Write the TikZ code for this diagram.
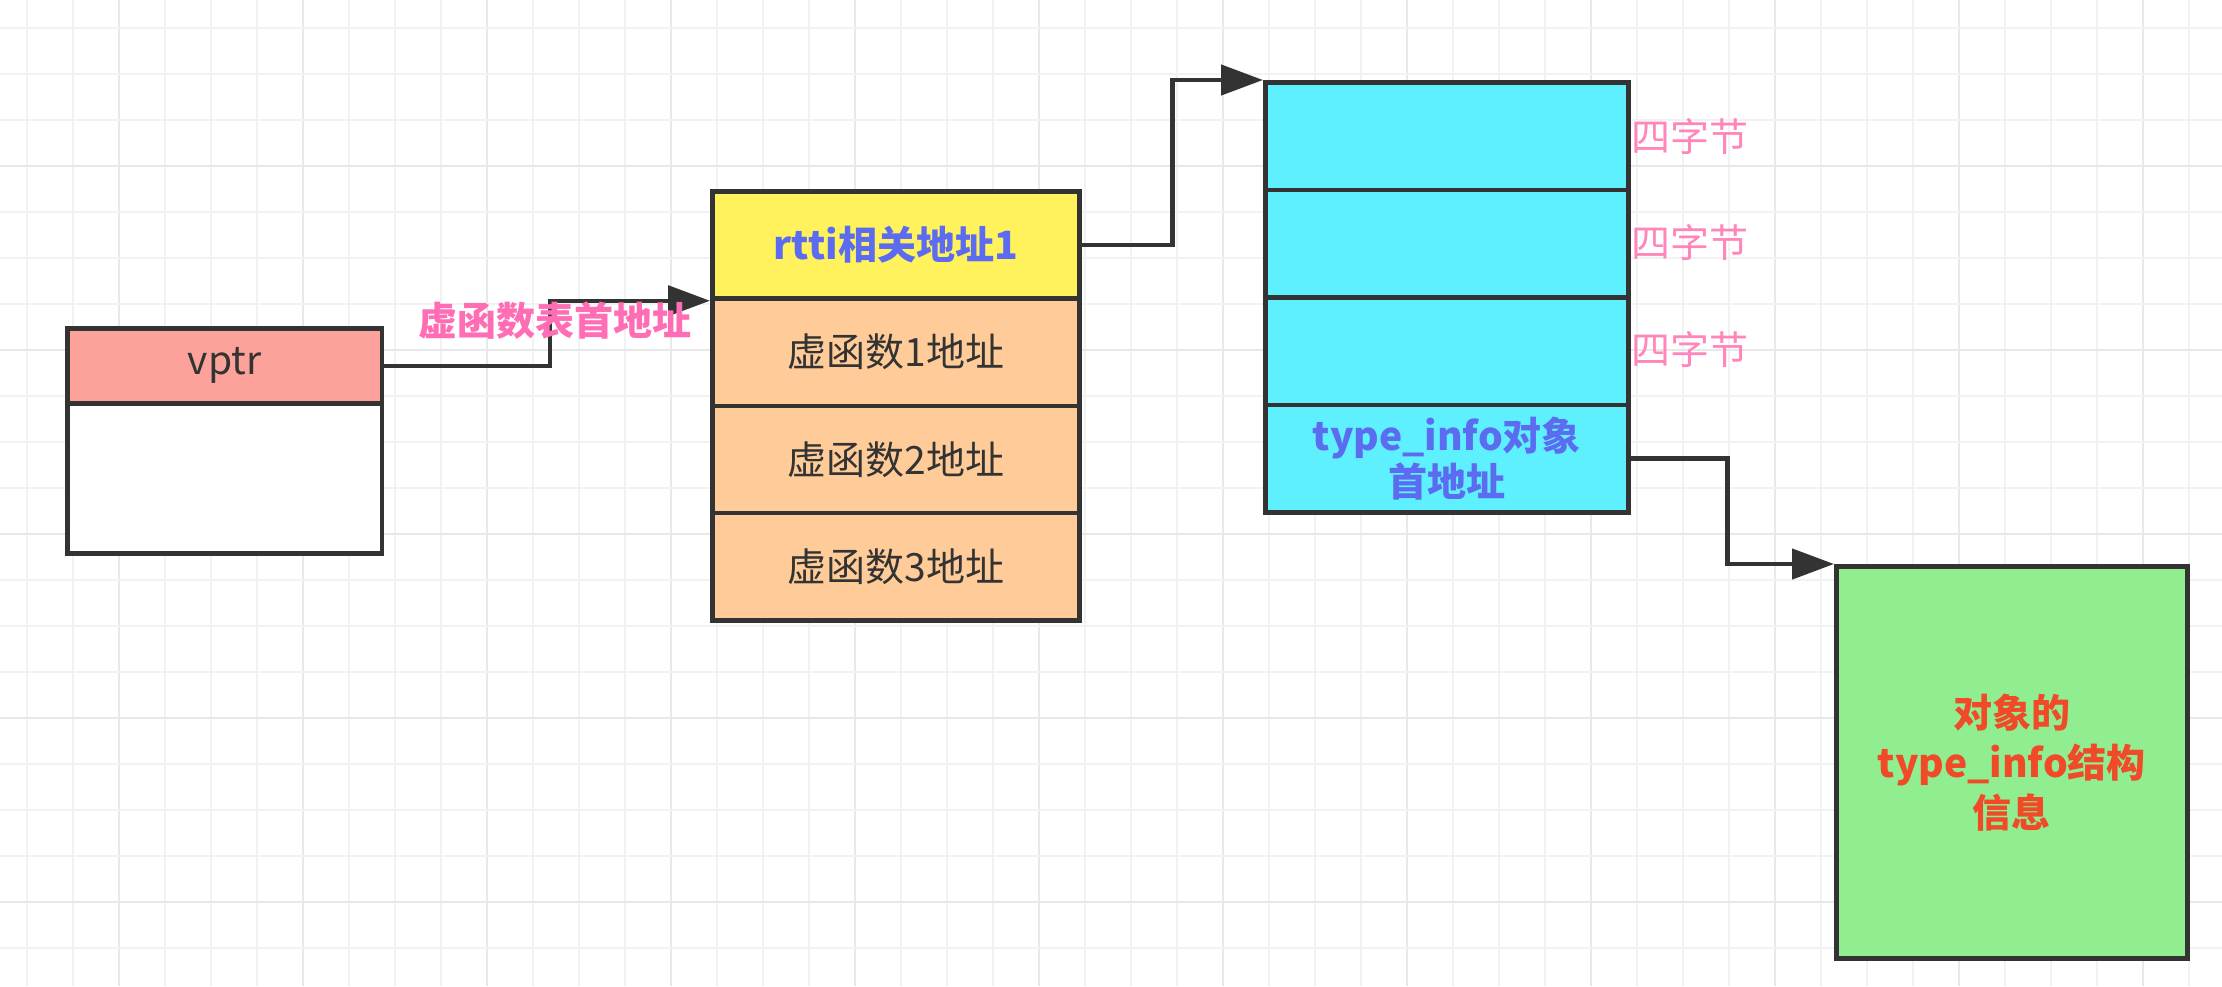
\documentclass[tikz,border=0pt]{standalone}
\usepackage{fontspec}
\setmainfont{Noto Sans CJK SC}
\usetikzlibrary{arrows.meta}

\definecolor{edge}{HTML}{333333}
\definecolor{ink}{HTML}{333333}
\definecolor{gridminor}{HTML}{F2F2F2}
\definecolor{gridmajor}{HTML}{E8E8E8}
\definecolor{vptrfill}{HTML}{FDA29A}
\definecolor{rttifill}{HTML}{FFF25C}
\definecolor{slotfill}{HTML}{FFCC99}
\definecolor{cyanfill}{HTML}{5EF0FF}
\definecolor{infofill}{HTML}{90EE90}
\definecolor{bluetext}{HTML}{5C6CF0}
\definecolor{pinkbold}{HTML}{FF6DB4}
\definecolor{pinklight}{HTML}{FF85BB}
\definecolor{redtext}{HTML}{F04A28}

\begin{document}
\begin{tikzpicture}[x=1pt,y=-1pt,
  cell/.style={draw=edge, line width=4.5pt, rectangle, inner sep=0pt,
    anchor=north west, text=ink, align=center,
    font=\fontsize{39}{46}\selectfont},
  slot/.style={cell, fill=slotfill, minimum width=367pt, minimum height=107.25pt},
  quad/.style={cell, fill=cyanfill, minimum width=363pt, minimum height=107.5pt},
  note/.style={inner sep=0pt, font=\fontsize{39}{46}\selectfont},
  link/.style={draw=edge, line width=4.5pt, -{Triangle[length=42pt,width=30pt]}},
  ]
% canvas and grid
\fill[white] (0,0) rectangle (2222,986);
\useasboundingbox (0,0) rectangle (2222,986);
\foreach \k in {0,...,47} {
  \pgfmathtruncatemacro{\m}{mod(\k,4)}
  \ifnum\m=2
    \draw[gridmajor, line width=2pt] ({26.7+46*\k},0) -- ({26.7+46*\k},986);
  \else
    \draw[gridminor, line width=2pt] ({26.7+46*\k},0) -- ({26.7+46*\k},986);
  \fi
}
\foreach \k in {0,...,20} {
  \pgfmathtruncatemacro{\m}{mod(\k,4)}
  \ifnum\m=3
    \draw[gridmajor, line width=2pt] (0,{28.3+46*\k}) -- (2222,{28.3+46*\k});
  \else
    \draw[gridminor, line width=2pt] (0,{28.3+46*\k}) -- (2222,{28.3+46*\k});
  \fi
}

% object with its vptr
\node[cell, fill=vptrfill, minimum width=314.5pt, minimum height=75pt] (vptr) at (65,326) {vptr};
\node[cell, fill=white, minimum width=314.5pt, minimum height=150pt] (obj) at (65,401) {};

% virtual function table
\node[cell, fill=rttifill, minimum width=367pt, minimum height=107.25pt, text=bluetext,
  font=\fontsize{39}{46}\selectfont\bfseries] (rtti) at (710,189) {rtti相关地址1};
\node[slot] (f1) at (710,296.25) {虚函数1地址};
\node[slot] (f2) at (710,403.5) {虚函数2地址};
\node[slot] (f3) at (710,510.75) {虚函数3地址};

% rtti block
\node[quad] (c1) at (1263,80) {};
\node[quad] (c2) at (1263,187.5) {};
\node[quad] (c3) at (1263,295) {};
\node[quad, text=bluetext, font=\fontsize{39}{46}\selectfont\bfseries] (tinfo) at (1263,402.5)
  {type\_info对象\\首地址};

% byte-size notes
\node[note, text=pinklight, anchor=west] (b1) at (1631,137) {四字节};
\node[note, text=pinklight, anchor=west] (b2) at (1631,243) {四字节};
\node[note, text=pinklight, anchor=west] (b3) at (1631,350) {四字节};

% type_info structure
\node[cell, fill=infofill, minimum width=351pt, minimum height=392pt, text=redtext,
  font=\fontsize{39}{50}\selectfont\bfseries] (info) at (1834,564)
  {对象的\\type\_info结构\\信息};

% pointers
\draw[link] (vptr.east) -- ++(166,0) |- (rtti.south west);
\node[note, text=pinkbold, font=\fontsize{39}{46}\selectfont\bfseries] (vtlabel) at (555,321) {虚函数表首地址};
\draw[link] (rtti.east) -- ++(91,0) |- (c1.north west);
\draw[link] (tinfo.east) -- ++(97,0) |- (info.north west);
\end{tikzpicture}
\end{document}
